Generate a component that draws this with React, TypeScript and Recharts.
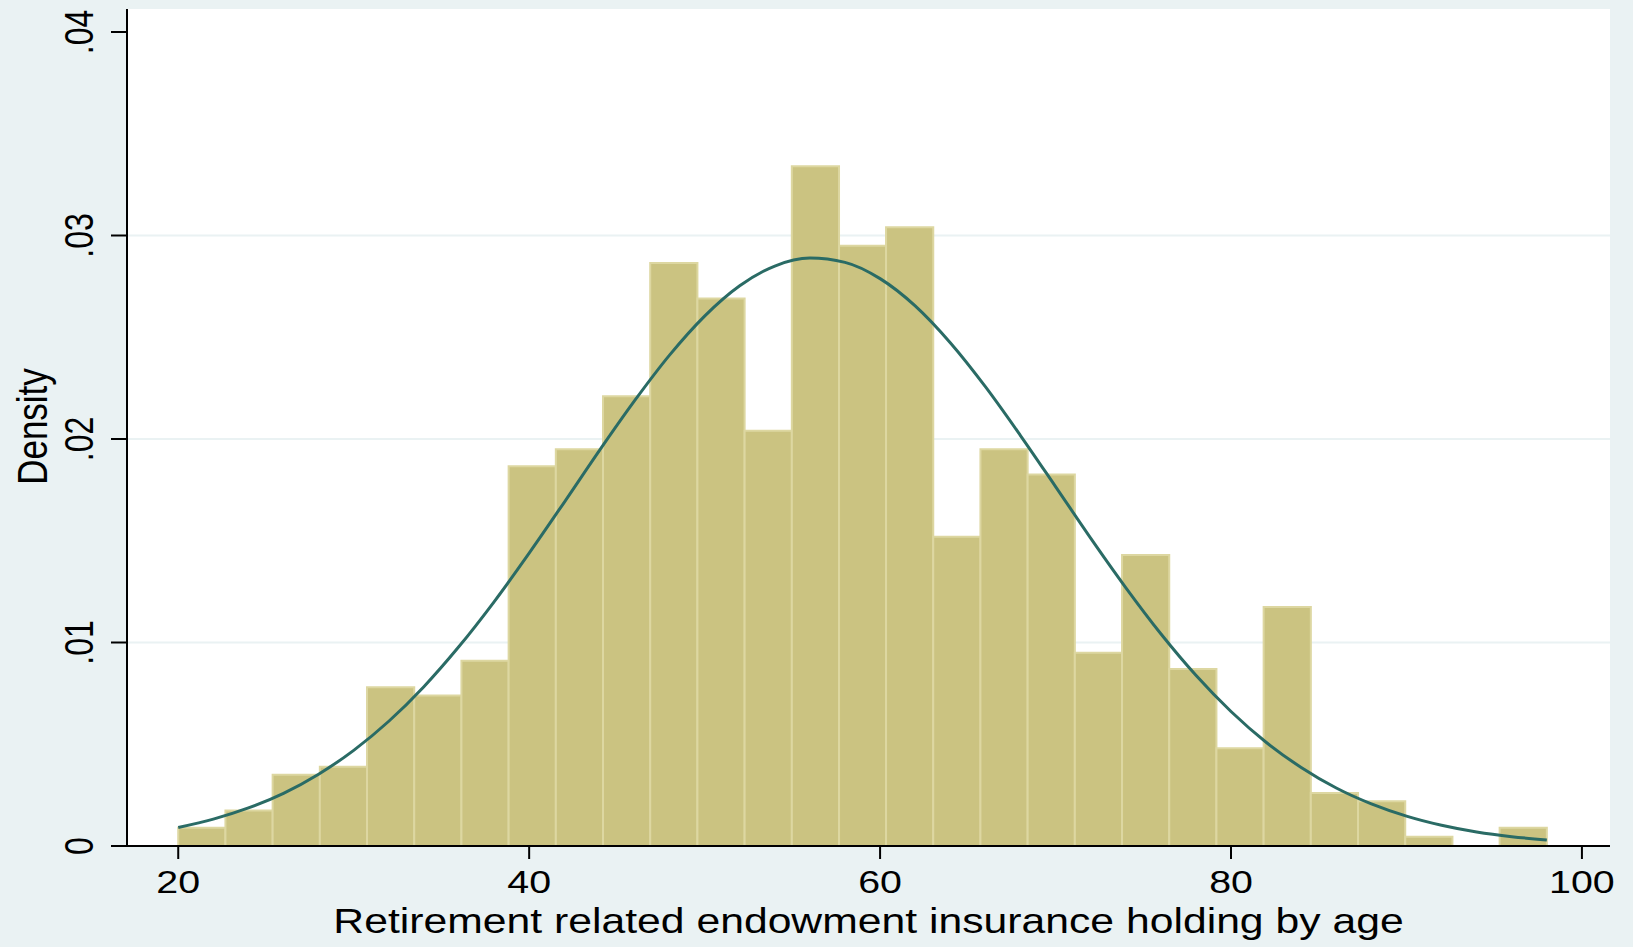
import React from 'react'
import {
  ComposedChart,
  Line,
  XAxis,
  YAxis,
  CartesianGrid,
  ReferenceArea,
  Label,
} from 'recharts'

// histogram bins (age), 29 bins from 20 to 98
const binEdges = [
  20, 22.69, 25.38, 28.07, 30.76, 33.45, 36.14, 38.83, 41.52, 44.21, 46.9, 49.59, 52.28, 54.97, 57.66,
  60.34, 63.03, 65.72, 68.41, 71.1, 73.79, 76.48, 79.17, 81.86, 84.55, 87.24, 89.93, 92.62, 95.31, 98,
]
const binDensity = [
  0.0009, 0.00174, 0.0035, 0.0039, 0.0078, 0.0074, 0.0091, 0.01866, 0.0195, 0.0221, 0.02865, 0.0269,
  0.0204, 0.0334, 0.0295, 0.0304, 0.0152, 0.0195, 0.01825, 0.0095, 0.0143, 0.0087, 0.0048, 0.01174,
  0.0026, 0.0022, 0.00046, 0, 0.0009,
]

// normal density overlay
const curveAge = [
  20, 22, 24, 26, 28, 30, 32, 34, 36, 38, 40, 42, 44, 46, 48, 50, 52, 54, 56, 58,
  60, 62, 64, 66, 68, 70, 72, 74, 76, 78, 80, 82, 84, 86, 88, 90, 92, 94, 96, 98,
]
const curveDensity = [
  0.00091, 0.00132, 0.00187, 0.00259, 0.00353, 0.0047, 0.00613, 0.00783, 0.0098, 0.012,
  0.01439, 0.01689, 0.01943, 0.02187, 0.02412, 0.02604, 0.02753, 0.0285, 0.02889, 0.02868,
  0.02788, 0.02654, 0.02473, 0.02257, 0.02017, 0.01766, 0.01513, 0.0127, 0.01043, 0.00839,
  0.00661, 0.0051, 0.00386, 0.00285, 0.00207, 0.00147, 0.00102, 0.00069, 0.00046, 0.0003,
]

const xTicks = [20, 40, 60, 80, 100]
const yTicks = [0, 0.01, 0.02, 0.03, 0.04]
const gridValues = [0.01, 0.02, 0.03]

const FONT = '"Liberation Sans", Arial, Helvetica, sans-serif'
const BG = '#eaf2f3'

const curveData = curveAge.map((x, i) => ({ x, density: curveDensity[i] }))
const bins = binDensity.map((d, i) => ({ x1: binEdges[i], x2: binEdges[i + 1], d }))

const fmtY = (v: number) => (v === 0 ? '0' : String(v).replace(/^0/, ''))

function XTick(props: any) {
  const { x, y, payload } = props
  return (
    <text
      transform={`translate(${x},${y + 34}) scale(1.23,1)`}
      textAnchor="middle"
      fontSize={32}
      fontFamily={FONT}
      fill="#000"
    >
      {payload.value}
    </text>
  )
}

function YTick(props: any) {
  const { x, y, payload } = props
  return (
    <text
      transform={`translate(${x - 18},${y}) scale(1.25,1) rotate(-90)`}
      textAnchor="middle"
      fontSize={32}
      fontFamily={FONT}
      fill="#000"
    >
      {fmtY(payload.value)}
    </text>
  )
}

function XTitle(props: any) {
  const vb = props.viewBox || {}
  const cx = vb.x + vb.width / 2
  return (
    <text
      transform={`translate(${cx},${vb.y + 87}) scale(1.22,1)`}
      textAnchor="middle"
      fontSize={35}
      fontFamily={FONT}
      fill="#000"
    >
      Retirement related endowment insurance holding by age
    </text>
  )
}

function YTitle(props: any) {
  const vb = props.viewBox || {}
  const cy = vb.y + vb.height / 2
  return (
    <text
      transform={`translate(47,${cy - 1}) scale(1.22,1) rotate(-90)`}
      textAnchor="middle"
      fontSize={35}
      fontFamily={FONT}
      fill="#000"
    >
      Density
    </text>
  )
}

export default function App() {
  return (
    <div style={{ position: 'absolute', left: 0, top: 0, width: 1633, height: 947, background: BG }}>
      <ComposedChart
        width={1633}
        height={947}
        data={curveData}
        margin={{ top: 9, right: 23, left: 0, bottom: 0 }}
      >
        <CartesianGrid
          fill="#ffffff"
          vertical={false}
          horizontalValues={gridValues}
          stroke={BG}
          strokeWidth={2}
        />
        <XAxis
          dataKey="x"
          type="number"
          domain={[17.08, 101.6]}
          ticks={xTicks}
          allowDataOverflow
          height={101}
          tickSize={13}
          tickMargin={0}
          axisLine={{ stroke: '#000', strokeWidth: 2 }}
          tickLine={{ stroke: '#000', strokeWidth: 2 }}
          tick={<XTick />}
        >
          <Label content={<XTitle />} />
        </XAxis>
        <YAxis
          type="number"
          domain={[0, 0.04113]}
          ticks={yTicks}
          allowDataOverflow
          width={127}
          tickSize={16}
          tickMargin={0}
          axisLine={{ stroke: '#000', strokeWidth: 2 }}
          tickLine={{ stroke: '#000', strokeWidth: 2 }}
          tick={<YTick />}
        >
          <Label content={<YTitle />} />
        </YAxis>
        {bins
          .filter((b) => b.d > 0)
          .map((b, i) => (
            <ReferenceArea
              key={i}
              x1={b.x1}
              x2={b.x2}
              y1={0}
              y2={b.d}
              fill="#cbc381"
              fillOpacity={1}
              stroke="#ddd7a1"
              strokeWidth={2}
              strokeOpacity={1}
              zIndex={300}
            />
          ))}
        <Line
          dataKey="density"
          type="monotone"
          dot={false}
          activeDot={false}
          stroke="#2a6b65"
          strokeWidth={3}
          isAnimationActive={false}
          zIndex={450}
        />
      </ComposedChart>
    </div>
  )
}
